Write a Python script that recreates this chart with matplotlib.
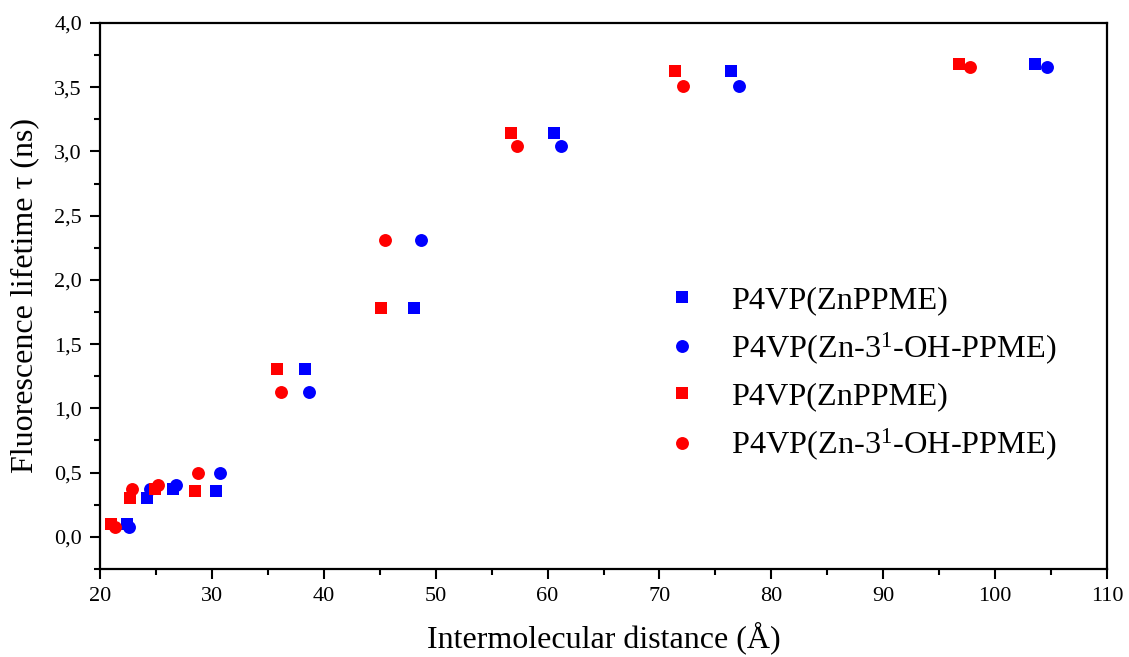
import matplotlib
matplotlib.use("Agg")
import matplotlib.pyplot as plt
from matplotlib.ticker import MultipleLocator, FuncFormatter

plt.rcParams['font.family'] = ['Liberation Serif', 'DejaVu Serif']
plt.rcParams['mathtext.fontset'] = 'custom'
plt.rcParams['mathtext.rm'] = 'Liberation Serif'
plt.rcParams['mathtext.it'] = 'Liberation Serif:italic'

# Blue series
blue_sq_x = [22.4, 24.2, 26.5, 30.4, 38.3, 48.1, 60.6, 76.4, 103.6]
blue_sq_y = [0.10, 0.30, 0.37, 0.36, 1.31, 1.78, 3.14, 3.63, 3.68]
blue_ci_x = [22.6, 24.5, 26.8, 30.7, 38.7, 48.7, 61.2, 77.1, 104.6]
blue_ci_y = [0.08, 0.37, 0.40, 0.50, 1.13, 2.31, 3.04, 3.51, 3.66]
# Red series
red_sq_x = [21.0, 22.7, 24.9, 28.5, 35.8, 45.1, 56.7, 71.4, 96.8]
red_sq_y = [0.10, 0.30, 0.37, 0.36, 1.31, 1.78, 3.14, 3.63, 3.68]
red_ci_x = [21.3, 22.9, 25.2, 28.8, 36.2, 45.5, 57.3, 72.1, 97.8]
red_ci_y = [0.08, 0.37, 0.40, 0.50, 1.13, 2.31, 3.04, 3.51, 3.66]

lab_sq = "P4VP(ZnPPME)"
lab_ci = "P4VP(Zn-3$^1$-OH-PPME)"

fig = plt.figure(figsize=(11.29, 6.57), dpi=100)
ax = fig.add_axes([0.0886, 0.134, 0.8919, 0.831])

ms_sq = 8.3
ms_ci = 9.3
ax.plot(blue_sq_x, blue_sq_y, 's', color='#0000ff', ms=ms_sq, mew=0, label=lab_sq)
ax.plot(blue_ci_x, blue_ci_y, 'o', color='#0000ff', ms=ms_ci, mew=0, label=lab_ci)
ax.plot(red_sq_x, red_sq_y, 's', color='#ff0000', ms=ms_sq, mew=0, label=lab_sq)
ax.plot(red_ci_x, red_ci_y, 'o', color='#ff0000', ms=ms_ci, mew=0, label=lab_ci)

ax.set_xlim(20, 110)
ax.set_ylim(-0.25, 4.0)
ax.xaxis.set_major_locator(MultipleLocator(10))
ax.xaxis.set_minor_locator(MultipleLocator(5))
ax.yaxis.set_major_locator(MultipleLocator(0.5))
ax.yaxis.set_minor_locator(MultipleLocator(0.25))
ax.yaxis.set_major_formatter(FuncFormatter(lambda v, p: f"{v:.1f}".replace('.', ',')))

for s in ax.spines.values():
    s.set_linewidth(1.6)
ax.tick_params(which='major', direction='out', length=7, width=1.5, labelsize=16, pad=6)
ax.tick_params(which='minor', direction='out', length=4, width=1.5)

ax.set_xlabel("Intermolecular distance (Å)", fontsize=23, labelpad=11)
ax.set_ylabel("Fluorescence lifetime τ (ns)", fontsize=23, labelpad=11)

leg = ax.legend(loc='upper left', bbox_to_anchor=(0.546, 0.543), frameon=False,
                fontsize=23.3, handletextpad=0.9, labelspacing=0.47, handlelength=1.2,
                borderaxespad=0)

fig.savefig("out.png", dpi=100)
